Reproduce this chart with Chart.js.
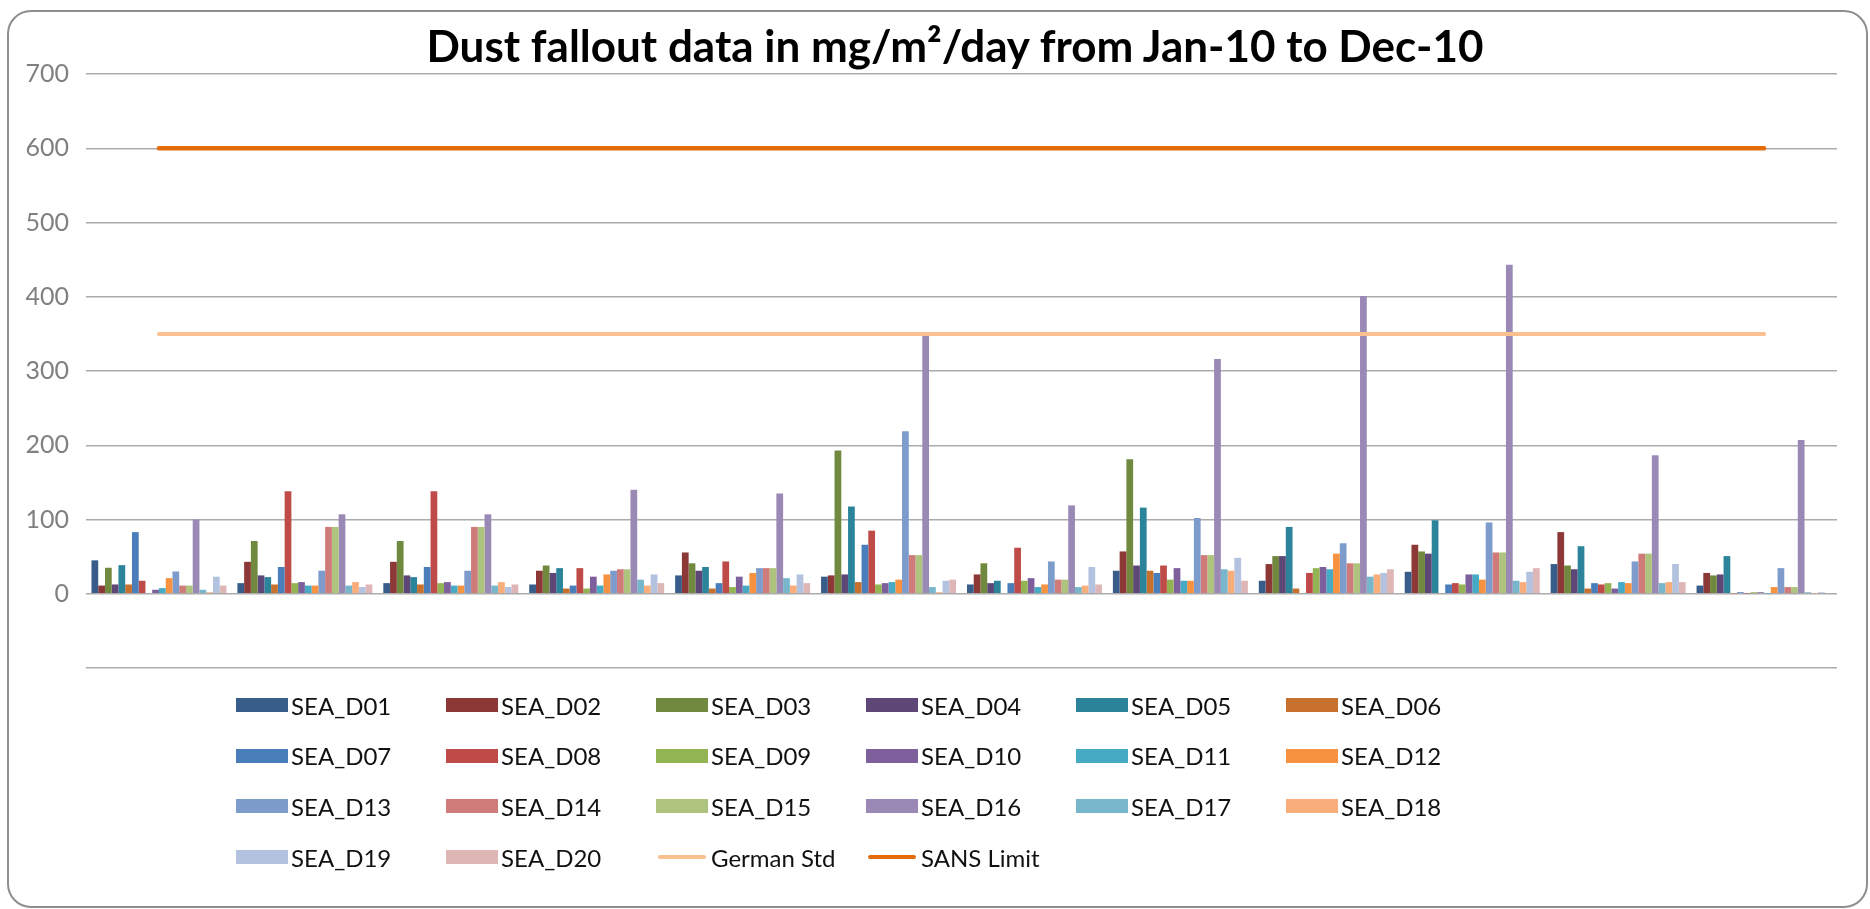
<!DOCTYPE html>
<html>
<head>
<meta charset="utf-8">
<script src="https://cdn.jsdelivr.net/npm/chart.js@4/dist/chart.umd.min.js"></script>
<style>
  html, body { margin: 0; padding: 0; background: #fff; }
  body { width: 1870px; height: 909px; position: relative; overflow: hidden; font-family: Lato, "Open Sans", sans-serif; }
  #frame { position: absolute; left: 7px; top: 10px; width: 1861px; height: 898px; box-sizing: border-box;
           border: 2px solid #8e8e8e; border-radius: 24px; }
  #chart { position: absolute; left: 0; top: 0; }
  #title { position: absolute; left: 0; top: 23px; width: 1910px; text-align: center;
           font-size: 44px; line-height: 44px; font-weight: bold; color: #000; white-space: nowrap; }
  .lg { position: absolute; height: 30px; display: flex; align-items: center; font-size: 24px; color: #111; white-space: nowrap; }
  .lg .sw { width: 52px; height: 14px; margin-right: 3px; }
  .lg .ln { width: 48px; height: 4px; border-radius: 2px; margin: 0 5px 0 2px; }
</style>
</head>
<body>
<div id="frame"></div>
<canvas id="chart" width="1870" height="909"></canvas>
<div id="title">Dust fallout data in mg/m²/day from Jan-10 to Dec-10</div>
<div id="legend"></div>
<script>
// months (axis labels are hidden in the source chart)
const months = ["Jan-10", "Feb-10", "Mar-10", "Apr-10", "May-10", "Jun-10",
                "Jul-10", "Aug-10", "Sep-10", "Oct-10", "Nov-10", "Dec-10"];

// dust fallout per site, mg/m²/day
const SEA_D01 = [45, 14.3, 14.3, 12.5, 24.7, 23, 12.5, 31, 17.5, 29.6, 40, 11];
const SEA_D02 = [11, 43, 43, 31, 55.6, 24.7, 26, 57, 40, 66, 83, 28];
const SEA_D03 = [35, 71, 71, 38, 41, 193, 41, 181, 50.7, 57, 38, 24.7];
const SEA_D04 = [12.5, 24.7, 24.7, 28, 31, 26, 14.3, 38, 50.7, 54, 33, 26];
const SEA_D05 = [38.5, 22.4, 22.4, 34.5, 36, 117.5, 17.5, 116, 90, 99, 64, 50.7];
const SEA_D06 = [12.5, 12.5, 12.5, 7, 7, 15.7, 0, 31, 7, 1, 7, 0.5];
const SEA_D07 = [83, 36, 36, 11, 14.3, 66, 14.3, 28, 0, 12.5, 14.3, 2];
const SEA_D08 = [17.5, 138, 138, 34.5, 43.5, 85, 62, 38, 28, 14.3, 12.5, 0.5];
const SEA_D09 = [0, 14.3, 14.3, 7, 9, 12.5, 17.5, 19, 34.5, 12.5, 14.3, 2];
const SEA_D10 = [5.4, 15.7, 15.7, 23, 23, 14.3, 21, 34.5, 36, 26, 7, 2];
const SEA_D11 = [7.6, 11, 11, 11, 11, 15.7, 9, 17.5, 33, 26, 15.7, 0.5];
const SEA_D12 = [21, 11, 11, 26, 28, 19, 12.5, 17.5, 54, 19, 14.3, 9];
const SEA_D13 = [30, 31, 31, 31, 34.5, 219, 43.5, 102, 68, 96, 43.5, 34.5];
const SEA_D14 = [11, 90, 90, 33, 34.5, 52, 19, 52, 41, 55.6, 54, 9];
const SEA_D15 = [11, 90, 90, 33, 34.5, 52, 19, 52, 41, 55.6, 54, 9];
const SEA_D16 = [100, 107, 107, 140, 135, 348, 119, 316, 401, 443, 186.5, 207];
const SEA_D17 = [5.4, 11, 11, 19, 21, 9, 9, 33, 23, 17.5, 14.3, 2];
const SEA_D18 = [2, 15.7, 15.7, 11, 11, 2, 11, 31, 26, 15.7, 15.7, 0.5];
const SEA_D19 = [23, 9, 9, 26, 26, 17.5, 36, 48.4, 28, 29.6, 40, 2];
const SEA_D20 = [11, 12.5, 12.5, 14.3, 14.3, 19, 12.5, 17.5, 33, 34.5, 15.7, 0];

// reference limits
const germanStd = [350, 350, 350, 350, 350, 350, 350, 350, 350, 350, 350, 350];
const sansLimit = [600, 600, 600, 600, 600, 600, 600, 600, 600, 600, 600, 600];

const yTicks = [0, 100, 200, 300, 400, 500, 600, 700];

const siteNames = ["SEA_D01", "SEA_D02", "SEA_D03", "SEA_D04", "SEA_D05", "SEA_D06", "SEA_D07",
  "SEA_D08", "SEA_D09", "SEA_D10", "SEA_D11", "SEA_D12", "SEA_D13", "SEA_D14", "SEA_D15",
  "SEA_D16", "SEA_D17", "SEA_D18", "SEA_D19", "SEA_D20"];
const siteValues = [SEA_D01, SEA_D02, SEA_D03, SEA_D04, SEA_D05, SEA_D06, SEA_D07, SEA_D08, SEA_D09, SEA_D10,
  SEA_D11, SEA_D12, SEA_D13, SEA_D14, SEA_D15, SEA_D16, SEA_D17, SEA_D18, SEA_D19, SEA_D20];
// Excel 2007 palette: dark accents, accents, light accents, lighter accents
const siteColors = ["#385D8A", "#8C3836", "#71893F", "#5C4776", "#2C849A", "#C8712F",
  "#4A7EBB", "#BE4B48", "#93B452", "#7D5F9C", "#46AAC5", "#F69240",
  "#7E9CCB", "#CF7B79", "#AEC47E", "#9A89B5", "#78B6CC", "#F9AD7B",
  "#B3C2DE", "#DDB6B5"];

const datasets = siteNames.map((name, i) => ({
  type: "bar", label: name, data: siteValues[i],
  backgroundColor: siteColors[i], borderWidth: 0,
}));
datasets.push({ type: "line", label: "German Std", data: germanStd, borderColor: "#FAC090",
  borderWidth: 4, pointRadius: 0, borderCapStyle: "round", order: -1 });
datasets.push({ type: "line", label: "SANS Limit", data: sansLimit, borderColor: "#E46C0A",
  borderWidth: 4.5, pointRadius: 0, borderCapStyle: "round", order: -2 });

new Chart(document.getElementById("chart"), {
  type: "bar",
  data: { labels: months, datasets },
  options: {
    responsive: false, animation: false,
    layout: { padding: { left: 0, right: 33, top: 74, bottom: 241 } },
    datasets: { bar: { categoryPercentage: 0.925, barPercentage: 1.0 } },
    scales: {
      x: { display: false },
      y: {
        min: -100, max: 700,
        afterFit: (s) => { s.width = 86; },
        afterBuildTicks: (s) => { s.ticks = [-100].concat(yTicks).map(v => ({ value: v })); },
        border: { display: false },
        grid: { color: "#ababab", lineWidth: 1.5, drawTicks: false },
        ticks: { padding: 17, color: "#808080", font: { family: "Lato", size: 25 },
                 callback: (v) => (v < 0 ? "" : v) },
      },
    },
    plugins: {
      legend: { display: false },
      tooltip: { enabled: false },
    },
  },
});

// legend: 6 columns, row-major like the Excel legend
const legend = document.getElementById("legend");
const items = siteNames.map((n, i) => ({ name: n, color: siteColors[i], line: false }))
  .concat([{ name: "German Std", color: "#FAC090", line: true },
           { name: "SANS Limit", color: "#E46C0A", line: true }]);
items.forEach((it, i) => {
  const col = i % 6, row = Math.floor(i / 6);
  const d = document.createElement("div");
  d.className = "lg";
  d.style.left = (236 + col * 210) + "px";
  d.style.top = (690 + row * 50.7) + "px";
  const sw = document.createElement("span");
  sw.className = it.line ? "ln" : "sw";
  sw.style.background = it.color;
  d.appendChild(sw);
  d.appendChild(document.createTextNode(it.name));
  legend.appendChild(d);
});
</script>
</body>
</html>
